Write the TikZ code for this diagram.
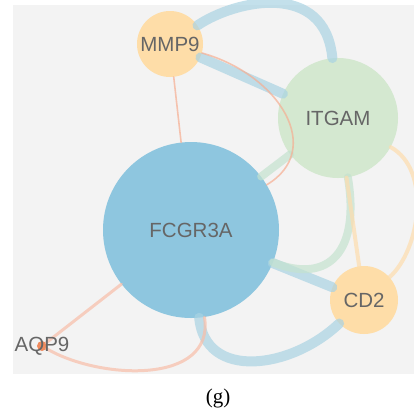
\documentclass[tikz,border=0pt]{standalone}
\usepackage{fontspec}
\setmainfont{Liberation Serif}
\newfontfamily\genefont{Liberation Sans}
\definecolor{bg}{HTML}{F3F3F3}
\definecolor{fcgrblue}{HTML}{8EC6DF}
\definecolor{itgamgreen}{HTML}{D4E8D0}
\definecolor{peach}{HTML}{FEDDA8}
\definecolor{aqporange}{HTML}{F08B5E}
\definecolor{genetext}{HTML}{666666}
\definecolor{edgeblue}{HTML}{A9D3E3}
\definecolor{edgegreen}{HTML}{C4E2CF}
\definecolor{edgepeach}{HTML}{FDDDAE}
\definecolor{edgesalmon}{HTML}{F6AE92}
\begin{document}
\begin{tikzpicture}[x=1pt,y=-1pt,
  gene/.style={circle,inner sep=0pt,minimum size=#1,text=genetext,
    font=\genefont\fontsize{20.5}{24}\selectfont},
  link/.style={line cap=round,draw opacity=0.7},
  bluelink/.style={link,edgeblue,line width=10pt},
  greenlink/.style={link,edgegreen,line width=8pt},
  peachlink/.style={link,edgepeach,line width=4pt},
  thinlink/.style={link,edgesalmon,line width=1.6pt},
  aqplink/.style={link,edgesalmon!80!white,line width=3pt}]
\useasboundingbox (0,0) rectangle (414,413);
\fill[bg] (13,5) rectangle (414,374);

% genes
\node[gene=176pt,fill=fcgrblue] (fcgr) at (191,230) {FCGR3A};
\node[gene=120pt,fill=itgamgreen] (itgam) at (338,118) {ITGAM};
\node[gene=66pt,fill=peach] (mmp9) at (170,44) {MMP9};
\node[gene=68pt,fill=peach] (cd2) at (364,300) {CD2};
\node[circle,inner sep=0pt,minimum size=10pt,fill=aqporange] (aqp9) at (42,346) {};

% links
\draw[bluelink] (mmp9) .. controls (235,0) and (325,-20) .. (itgam);
\draw[bluelink] (mmp9) -- (itgam);
\draw[bluelink] (fcgr) -- (cd2);
\draw[bluelink] (fcgr) .. controls (205,380) and (290,370) .. (cd2);
\draw[greenlink] (itgam) -- (fcgr);
\draw[greenlink] (itgam) .. controls (360,250) and (330,285) .. (fcgr);
\draw[peachlink] (itgam) -- (cd2);
\draw[peachlink] (itgam) .. controls (432,170) and (420,250) .. (cd2);
\draw[thinlink] (mmp9) -- (fcgr);
\draw[thinlink] (mmp9) .. controls (280,75) and (325,150) .. (fcgr);
\draw[aqplink] (fcgr) -- (aqp9);
\draw[aqplink] (aqp9) .. controls (100,380) and (215,385) .. (fcgr);

\node[text=genetext,font=\genefont\fontsize{20.5}{24}\selectfont] (aqp9label) at (aqp9) {AQP9};
\node[font=\fontsize{21}{24}\selectfont] (caption) at (218,398) {(g)};
\end{tikzpicture}
\end{document}
